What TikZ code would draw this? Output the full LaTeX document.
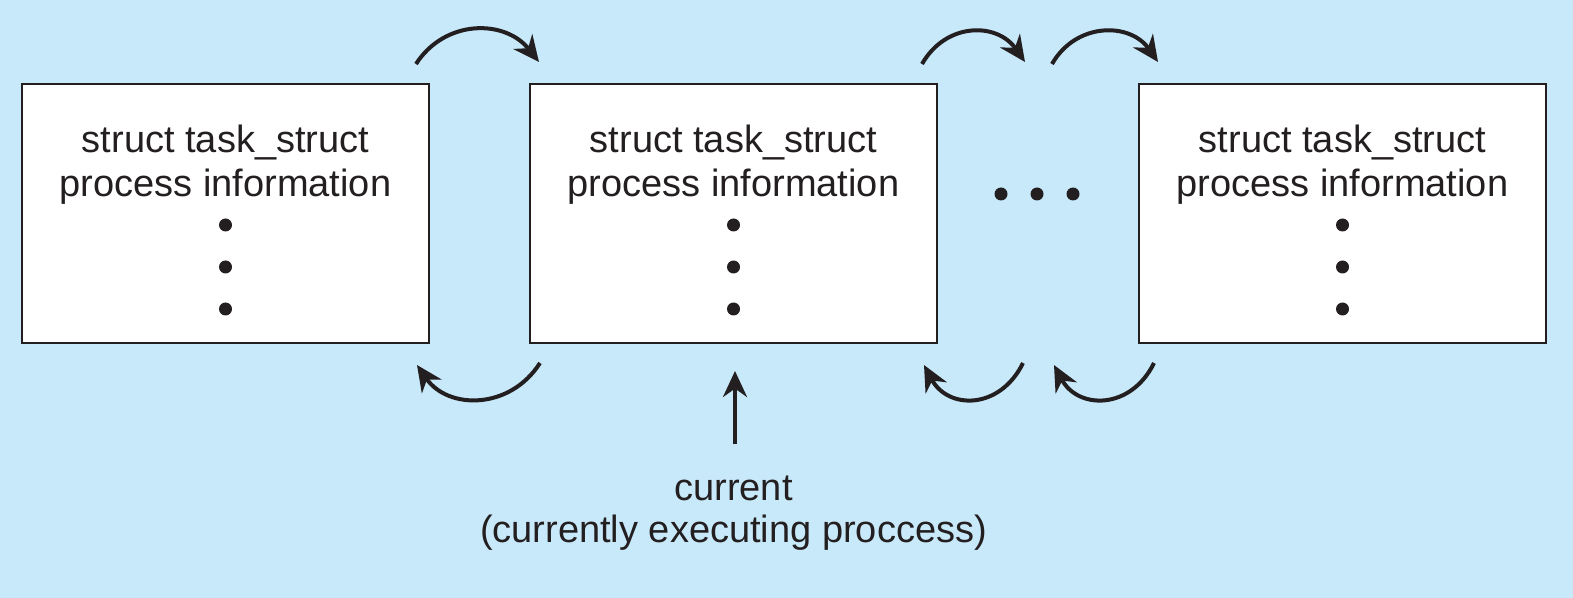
\documentclass[tikz,border=0pt]{standalone}
\usepackage{fontspec}
\setmainfont{Liberation Sans}
\usetikzlibrary{arrows.meta}
\definecolor{bgblue}{RGB}{200,233,249}
\definecolor{ink}{RGB}{35,31,32}
\tikzset{
  taskbox/.style={draw=ink, line width=1pt, fill=white, minimum width=203.5pt, minimum height=129.5pt, inner sep=0pt},
  boxtext/.style={text=ink, font=\fontsize{19}{22}\selectfont, align=center},
  link/.style={draw=ink, line width=2pt, -{Stealth[length=13pt,width=12pt]}},
  dot/.style={circle, fill=ink, inner sep=0pt, minimum size=6.5pt},
}
\begin{document}
\begin{tikzpicture}[x=0.5pt,y=-0.5pt]
\fill[bgblue] (0,0) rectangle (1573,598);
\useasboundingbox (0,0) rectangle (1573,598);
% boxes
\node[taskbox] (b1) at (225.5,213.5) {};
\node[taskbox] (b2) at (733.5,213.5) {};
\node[taskbox] (b3) at (1342.5,213.5) {};
\foreach \b/\x in {b1/225.5,b2/733.5,b3/1342.5}{
  \node[boxtext] (\b t1) at (\x,143) {struct task\_struct};
  \node[boxtext] (\b t2) at (\x,187) {process information};
  \node[dot] (\b d1) at (\x,225) {};
  \node[dot] (\b d2) at (\x,267) {};
  \node[dot] (\b d3) at (\x,309) {};
}
% middle ellipsis
\node[dot] (m1) at (1001,194) {};
\node[dot] (m2) at (1037,194) {};
\node[dot] (m3) at (1073,194) {};
% arrow endpoints
\coordinate (f1s) at (416,64);  \coordinate (f1e) at (539,62);
\coordinate (f2s) at (922,64);  \coordinate (f2e) at (1025,62);
\coordinate (f3s) at (1052,64); \coordinate (f3e) at (1158,62);
\coordinate (r1s) at (540,363); \coordinate (r1e) at (417,365);
\coordinate (r2s) at (1023,363); \coordinate (r2e) at (924,365);
\coordinate (r3s) at (1154,363); \coordinate (r3e) at (1054,365);
% forward arrows
\draw[link] (f1s) .. controls (445,19) and (505,19) .. (f1e);
\draw[link] (f2s) .. controls (946,22) and (997,22) .. (f2e);
\draw[link] (f3s) .. controls (1076,22) and (1130,22) .. (f3e);
% backward arrows
\draw[link] (r1s) .. controls (510,410) and (448,410) .. (r1e);
\draw[link] (r2s) .. controls (1000,410) and (948,410) .. (r2e);
\draw[link] (r3s) .. controls (1131,410) and (1078,410) .. (r3e);
% current
\node[boxtext, font=\fontsize{19}{21}\selectfont] (cur) at (733.5,513) {current\\(currently executing proccess)};
\coordinate (curtip) at (735,371);
\draw[link] (735,444) -- (curtip);
\end{tikzpicture}
\end{document}
